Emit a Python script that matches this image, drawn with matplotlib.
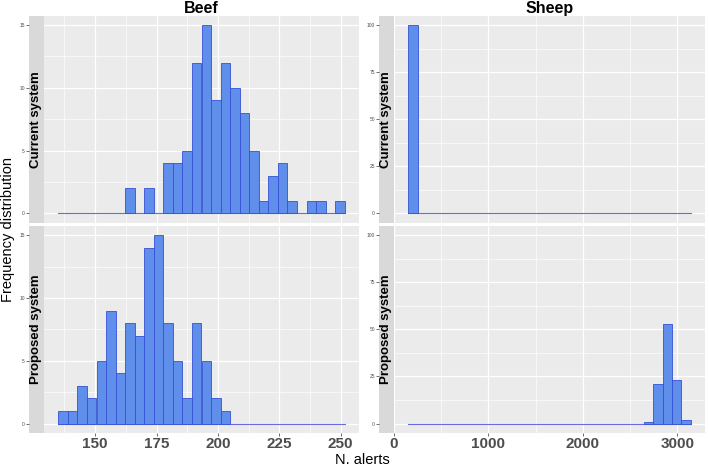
import numpy as np
import matplotlib.pyplot as plt
from matplotlib.ticker import MultipleLocator

plt.rcParams['font.family'] = ['Liberation Sans', 'DejaVu Sans']

# bin layout (30 bins per column)
beef_bin_start = 135.0
beef_bin_width = 3.887
sheep_bin_start = 150.0
sheep_bin_width = 99.8

# counts per bin
beef_current = [0, 0, 0, 0, 0, 0, 0, 2, 0, 2, 0, 4, 4, 5, 12, 15, 9, 12, 10, 8,
                5, 1, 3, 4, 1, 0, 1, 1, 0, 1]
beef_proposed = [1, 1, 3, 2, 5, 9, 4, 8, 7, 14, 15, 8, 5, 2, 8, 5, 2, 1, 0, 0,
                 0, 0, 0, 0, 0, 0, 0, 0, 0, 0]
sheep_current = [100] + [0] * 29
sheep_proposed = [0] * 25 + [1, 21, 53, 23, 2]

columns = ["Beef", "Sheep"]
rows = ["Current system", "Proposed system"]

fill = "#5F8FEA"
edge = "#3550D6"
W, H = 709, 467

fig = plt.figure(figsize=(W / 100, H / 100), dpi=100)


def box(x0, y0, x1, y1):
    return [x0 / W, 1 - y1 / H, (x1 - x0) / W, (y1 - y0) / H]


col_x = [(44, 359, 29), (394, 705, 379)]
row_y = [(15.7, 222.7), (225.7, 433)]
panels = {
    (0, 0): (beef_current, beef_bin_start, beef_bin_width),
    (1, 0): (beef_proposed, beef_bin_start, beef_bin_width),
    (0, 1): (sheep_current, sheep_bin_start, sheep_bin_width),
    (1, 1): (sheep_proposed, sheep_bin_start, sheep_bin_width),
}

for (r, c), (counts, start, width) in panels.items():
    x0, x1, sx = col_x[c]
    y0, y1 = row_y[r]
    ax = fig.add_axes(box(x0, y0, x1, y1))
    st = fig.add_axes(box(sx, y0, x0, y1), sharey=ax)

    counts = np.array(counts)
    edges = start + width * np.arange(len(counts) + 1)
    nz = counts > 0
    ax.plot([edges[0], edges[-1]], [0, 0], color="#6B6BE0", lw=0.8, zorder=2)
    ax.bar(edges[:-1][nz], counts[nz], width=width, align="edge",
           color=fill, edgecolor=edge, linewidth=0.6, zorder=3)

    span = edges[-1] - edges[0]
    lo = min(edges[0] - 0.05 * span, 0) if c == 1 else edges[0] - 0.05 * span
    ax.set_xlim(lo, edges[-1] + 0.05 * span)
    top = 15 if c == 0 else 100
    ax.set_ylim(-0.05 * top, 1.05 * top)

    ax.set_facecolor("#EBEBEB")
    for s in ax.spines.values():
        s.set_visible(False)
    if c == 0:
        ax.xaxis.set_major_locator(MultipleLocator(25))
        ax.xaxis.set_minor_locator(MultipleLocator(12.5))
        ax.yaxis.set_major_locator(MultipleLocator(5))
        ax.yaxis.set_minor_locator(MultipleLocator(2.5))
    else:
        ax.xaxis.set_major_locator(MultipleLocator(1000))
        ax.xaxis.set_minor_locator(MultipleLocator(500))
        ax.yaxis.set_major_locator(MultipleLocator(25))
        ax.yaxis.set_minor_locator(MultipleLocator(12.5))
    ax.grid(which="major", color="white", lw=0.9)
    ax.grid(which="minor", color="white", lw=0.45)
    ax.set_axisbelow(True)
    ax.tick_params(axis="y", which="both", left=False, labelleft=False)
    ax.tick_params(which="minor", length=0)
    if r == 1:
        ax.tick_params(axis="x", which="major", length=2, width=0.5,
                       color="#333333", pad=1, labelsize=11,
                       labelcolor="#4D4D4D")
        for t in ax.get_xticklabels():
            t.set_fontweight("bold")
    else:
        ax.tick_params(axis="x", which="both", bottom=False, labelbottom=False)

    if r == 0:
        ax.set_title(columns[c], fontsize=11.5, fontweight="bold", pad=2)

    # strip on the left, axis sits outside it
    st.set_facecolor("#D9D9D9")
    for s in st.spines.values():
        s.set_visible(False)
    st.set_xticks([])
    st.tick_params(axis="y", which="major", length=2, width=0.5,
                   color="#333333", pad=1, labelsize=3.5, labelcolor="#4D4D4D")
    st.tick_params(axis="y", which="minor", length=0)
    st.text(0.5, 0.5, rows[r], transform=st.transAxes, rotation=90,
            ha="center", va="center", fontsize=9.5, fontweight="bold")

fig.text(8 / W, 1 - 230 / H, "Frequency distribution", rotation=90,
         ha="center", va="center", fontsize=10.5)
fig.text(362 / W, 1 - 460 / H, "N. alerts", ha="center", va="center",
         fontsize=10.5)

fig.savefig("out.png", dpi=100)
